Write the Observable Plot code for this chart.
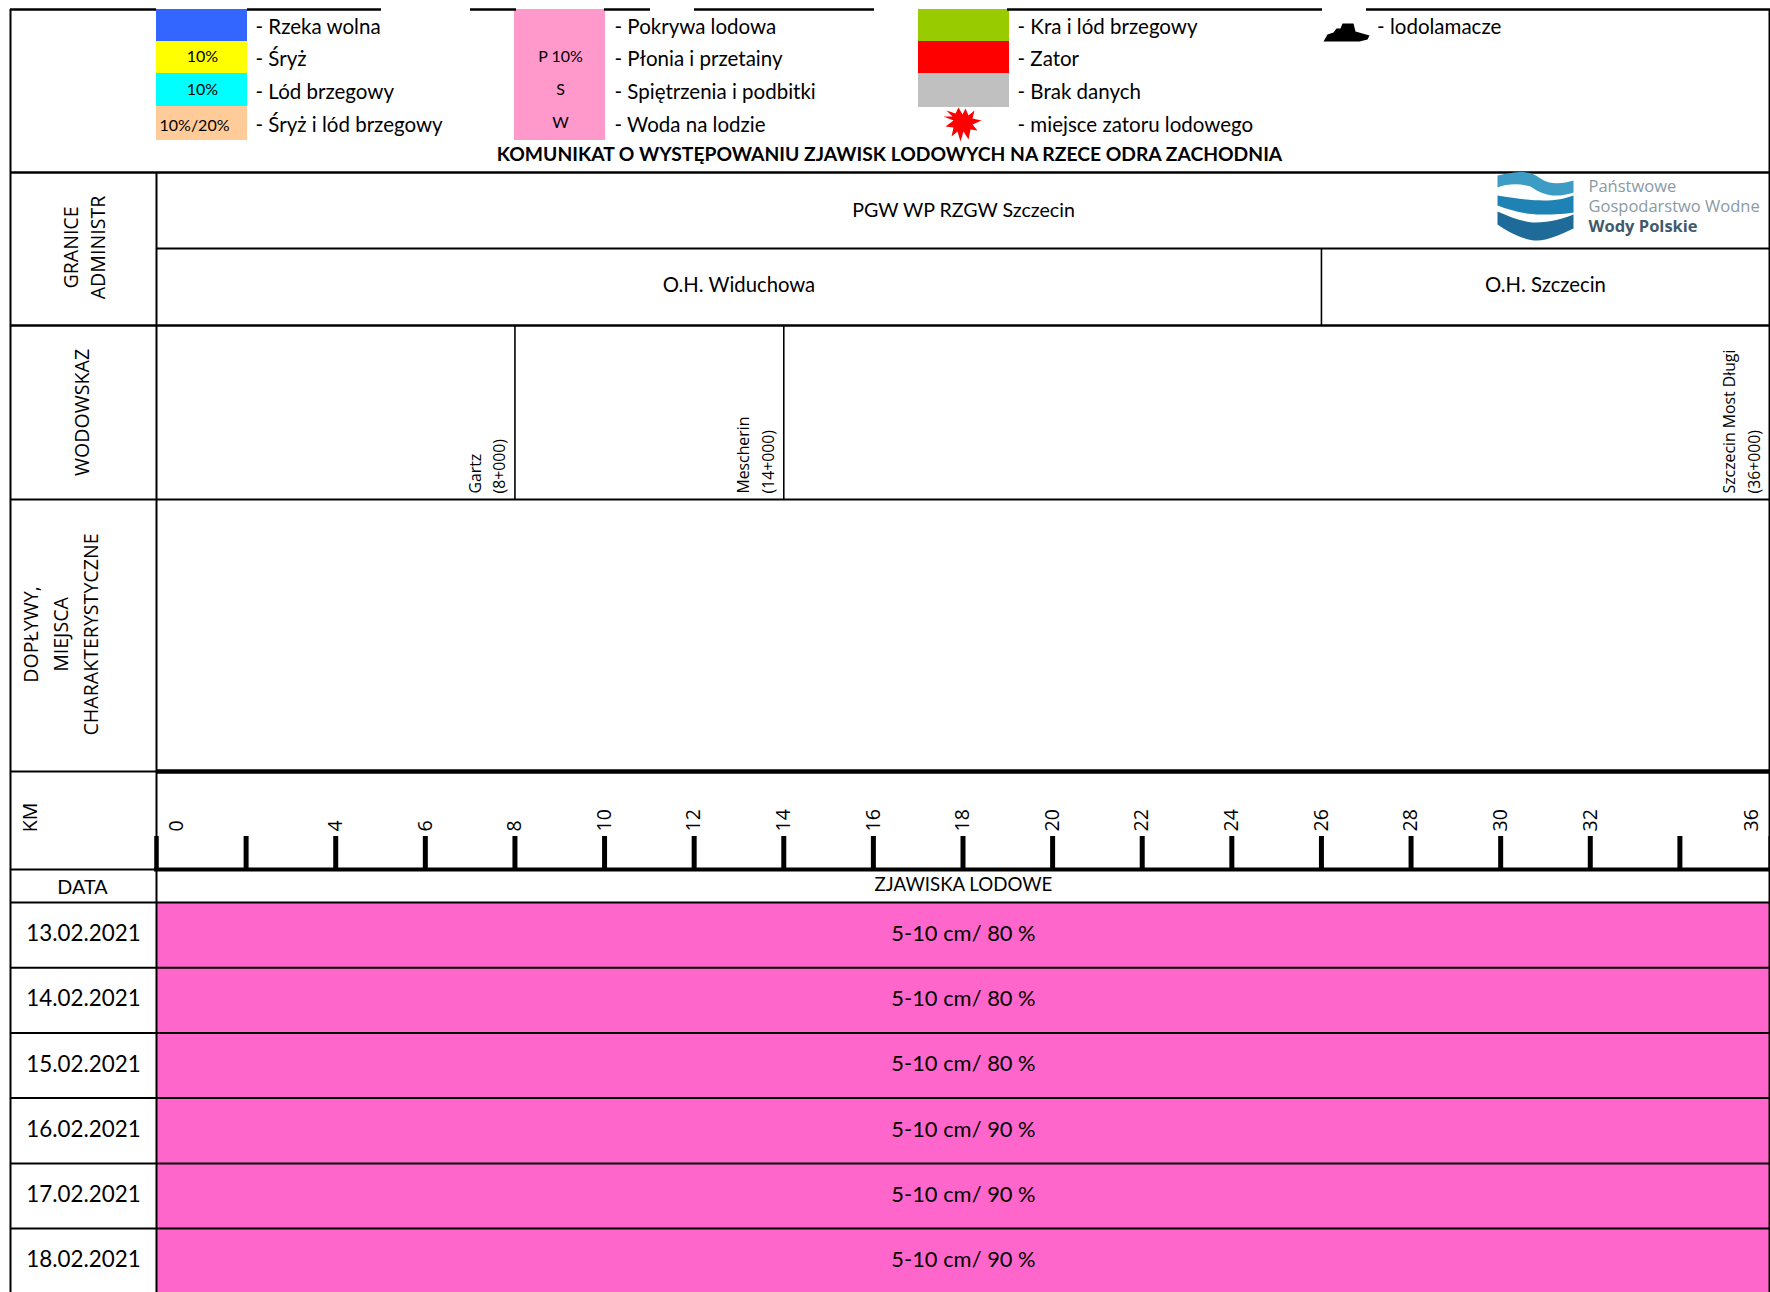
<!DOCTYPE html>
<html>
<head>
<meta charset="utf-8">
<script src="https://cdn.jsdelivr.net/npm/d3@7"></script>
<script src="https://cdn.jsdelivr.net/npm/@observablehq/plot@0.6"></script>
<style>html,body{margin:0;padding:0;background:#fff}svg{display:block}</style>
</head>
<body>
<div id="chart"></div>
<script>
// ---- data ----
const dates = ["13.02.2021","14.02.2021","15.02.2021","16.02.2021","17.02.2021","18.02.2021"];
const conditions = ["5-10 cm/ 80 %","5-10 cm/ 80 %","5-10 cm/ 80 %","5-10 cm/ 90 %","5-10 cm/ 90 %","5-10 cm/ 90 %"];
const kmTicks = [0,2,4,6,8,10,12,14,16,18,20,22,24,26,28,30,32,34,36];
const kmLabels = [4,6,8,10,12,14,16,18,20,22,24,26,28,30,32];
const gauges = [
  {km:8,  text:"Gartz\n(8+000)"},
  {km:14, text:"Mescherin\n(14+000)"},
  {km:36, text:"Szczecin Most Długi\n(36+000)"}
];
const legendA = ["- Rzeka wolna","- Śryż","- Lód brzegowy","- Śryż i lód brzegowy"];
const legendB = ["- Pokrywa lodowa","- Płonia i przetainy","- Spiętrzenia i podbitki","- Woda na lodzie"];
const legendC = ["- Kra i lód brzegowy","- Zator","- Brak danych","- miejsce zatoru lodowego"];
const swatchA = ["#3366ff","#ffff00","#00ffff","#ffcc99"];
const swatchAText = ["","10%","10%","10%/20%"];
const swatchBText = ["","P 10%","S","W"];
const swatchC = ["#99cc00","#ff0000","#c0c0c0"];
const title = "KOMUNIKAT O WYSTĘPOWANIU ZJAWISK LODOWYCH NA RZECE ODRA ZACHODNIA";

// ---- layout ----
const pxPerKm = (1769-156)/36;
const K = px => (px-156)/pxPerKm;         // frame pixel to km
const L = 10, C = 156, R = 1769;
const rowTops = [902,967.2,1032.4,1097.6,1163,1228,1295];
const legendY = [9,41,73,106,140];
const legendTextY = [26.5,59,92,124.5];
const rows = dates.map((d,i)=>({date:d,cond:conditions[i],y1:rowTops[i],y2:rowTops[i+1]}));

const sans = "Lato, Carlito, Calibri, sans-serif";
const open = "'Open Sans', sans-serif";
const txt = (data, o) => Plot.text(data, {fill:"#000", fontFamily:sans, fontSize:20, textAnchor:"middle", lineAnchor:"middle", ...o});
const vtxt = (s, x, y, o={}) => Plot.text([s], {x:()=>K(x), y:()=>y, text:d=>d, rotate:-90, fontFamily:open, fontSize:19.6, fill:"#000", ...o});
const hline = (x1,x2,y,w) => Plot.ruleY([y], {x1:K(x1), x2:K(x2), y:d=>d, stroke:"#000", strokeWidth:w});
const vline = (x,y1,y2,w) => Plot.ruleX([K(x)], {x:d=>d, y1, y2, stroke:"#000", strokeWidth:w});

const path = pts => ({draw(ctx){pts.forEach((p,i)=> i?ctx.lineTo(p[0],p[1]):ctx.moveTo(p[0],p[1])); ctx.closePath();}});
const star = path([[-16,-13],[-7,-10],[-4,-16],[0,-9],[3,-15],[6,-8],[12,-13],[10,-5],[19,-3],[10,1],[15,7],[8,6],[6,16],[1,8],[-2,18],[-5,8],[-11,13],[-9,4],[-17,3],[-9,-3],[-19,-7],[-10,-7]]);
const ship = path([[-24,9],[-20,2],[-14,0],[-11,-4],[-7,-4],[-5,-9],[6,-9],[8,-1],[22,3],[20,7],[12,9]]);
const wave1 = {draw(c){c.moveTo(-38,-32);c.bezierCurveTo(-15,-37,-5,-37,5,-29);c.bezierCurveTo(15,-22,28,-24,38,-27);c.lineTo(38,-15);c.bezierCurveTo(20,-9,8,-12,-5,-21);c.bezierCurveTo(-15,-24,-28,-24,-38,-20);c.closePath();}};
const wave2 = {draw(c){c.moveTo(-38,-12);c.bezierCurveTo(-20,-9,-5,-7,8,-7);c.bezierCurveTo(20,-7,30,-9,38,-12);c.lineTo(38,5);c.bezierCurveTo(25,7,15,7,5,7);c.bezierCurveTo(-10,7,-25,3,-38,-2);c.closePath();}};
const wave3 = {draw(c){c.moveTo(-38,4);c.bezierCurveTo(-25,10,-10,15,0,15);c.bezierCurveTo(15,15,28,11,38,7);c.lineTo(38,21);c.bezierCurveTo(25,27,12,33,2,33);c.bezierCurveTo(-12,33,-28,24,-38,17);c.closePath();}};
const mark1 = (sym, x, y, fill) => Plot.dot([0], {x:()=>K(x), y:()=>y, r:10, symbol:sym, fill, stroke:"none"});

const plot = Plot.plot({
  width:1770, height:1292,
  margin:0,
  x:{domain:[0,36], range:[C,R], axis:null},
  y:{domain:[0,1292], range:[0,1292], axis:null},
  style:{background:"#fff"},
  marks:[
    // ice rows
    Plot.rect(rows, {x1:0, x2:36, y1:"y1", y2:"y2", fill:"#ff66cc"}),
    // legend swatches
    Plot.rect(swatchA, {x1:K(156), x2:K(247), y1:(d,i)=>legendY[i], y2:(d,i)=>legendY[i+1], fill:d=>d}),
    Plot.rect([0], {x1:K(514), x2:K(605), y1:legendY[0], y2:legendY[4], fill:"#ff99cc"}),
    Plot.rect(swatchC, {x1:K(918), x2:K(1009), y1:(d,i)=>legendY[i], y2:(d,i)=>legendY[i+1]+(i==2?1:0), fill:d=>d}),
    // top border, broken where the legend overlaps it
    ...[[10,156],[247,381],[470,516],[604,650],[694,874],[1007,1322],[1366,1770]].map(s=>hline(s[0],s[1],9,2.4)),
    // horizontal rules
    hline(L,R,172,2.4), hline(C,R,248,2.2), hline(L,R,325,2.4), hline(L,R,499,2.2),
    hline(L,C,771,2.2), hline(C,R,771,4.6),
    hline(L,C,869,2), hline(C-2,R,869,4),
    ...rowTops.slice(0,6).map(y=>hline(L,R,y,2)),
    // vertical rules
    vline(L,9,1292,2), vline(R,9,1292,2), vline(C,172,1292,2),
    Plot.ruleX([26], {x:d=>d, y1:248, y2:325, stroke:"#000", strokeWidth:1.6}),
    Plot.ruleX(gauges.slice(0,2), {x:"km", y1:325, y2:499, stroke:"#000", strokeWidth:1.6}),
    // km ticks
    Plot.ruleX(kmTicks, {x:d=>d, y1:836, y2:869, stroke:"#000", strokeWidth:d=>d==36?2:d==0?4.5:5}),
    Plot.text(kmLabels, {x:d=>d, y:831, text:d=>String(d), rotate:-90, textAnchor:"start", lineAnchor:"middle", fontFamily:open, fontSize:19.5, fill:"#000"}),
    Plot.text([0], {x:d=>d, y:831, dx:20, text:d=>String(d), rotate:-90, textAnchor:"start", lineAnchor:"middle", fontFamily:open, fontSize:19.5, fill:"#000"}),
    Plot.text([36], {x:d=>d, y:831, dx:-18, text:d=>String(d), rotate:-90, textAnchor:"start", lineAnchor:"middle", fontFamily:open, fontSize:19.5, fill:"#000"}),
    // gauges
    Plot.text(gauges, {x:"km", y:493, dx:-30, text:"text", rotate:-90, textAnchor:"start", lineAnchor:"middle", lineHeight:1.55, fontFamily:open, fontSize:15.8, fill:"#000"}),
    // legend text
    txt(legendA, {x:()=>K(255), y:(d,i)=>legendTextY[i], text:d=>d, textAnchor:"start", fontSize:20.5}),
    txt(legendB, {x:()=>K(614), y:(d,i)=>legendTextY[i], text:d=>d, textAnchor:"start", fontSize:20.5}),
    txt(legendC, {x:()=>K(1017), y:(d,i)=>legendTextY[i], text:d=>d, textAnchor:"start", fontSize:20.5}),
    txt(["- lodolamacze"], {x:()=>K(1376.6), y:()=>26.5, text:d=>d, textAnchor:"start", fontSize:20.5}),
    txt(swatchAText, {x:(d,i)=>K(i==3?194:202), y:(d,i)=>i==3?125:legendTextY[i]-2.5, text:d=>d, fontSize:16}),
    txt(swatchBText, {x:()=>K(560), y:(d,i)=>legendTextY[i]-2.5, text:d=>d, fontSize:16}),
    mark1(star, 962, 123, "#ff0000"),
    mark1(ship, 1347, 32, "#000"),
    // title
    txt([title], {x:()=>K(889), y:()=>154, text:d=>d, fontWeight:"bold", fontSize:19.3}),
    // administrative boundaries
    txt(["PGW WP RZGW Szczecin"], {x:()=>K(963), y:()=>210, text:d=>d, fontSize:19.6}),
    txt(["O.H. Widuchowa"], {x:()=>13, y:()=>285, text:d=>d, fontSize:20.3}),
    txt(["O.H. Szczecin"], {x:()=>31, y:()=>285, text:d=>d, fontSize:20.3}),
    // logo
    mark1(wave1, 1535, 207, "#3d9cc4"),
    mark1(wave2, 1535, 207, "#1f82b4"),
    mark1(wave3, 1535, 207, "#1e6a98"),
    Plot.text(["Państwowe","Gospodarstwo Wodne"], {x:()=>K(1588), y:(d,i)=>186+i*20, text:d=>d, textAnchor:"start", lineAnchor:"middle", fontFamily:open, fontSize:16.5, fill:"#8a9aa3"}),
    Plot.text(["Wody Polskie"], {x:()=>K(1588), y:()=>226, text:d=>d, textAnchor:"start", lineAnchor:"middle", fontFamily:open, fontWeight:"bold", fontSize:16.5, fill:"#3f5a6b"}),
    // row headers
    vtxt("GRANICE\nADMINISTR", 82, 247, {lineHeight:1.4}),
    vtxt("WODOWSKAZ", 82, 412),
    vtxt("DOPŁYWY,\nMIEJSCA\nCHARAKTERYSTYCZNE", 58, 634, {lineHeight:1.53}),
    vtxt("KM", 30, 817),
    txt(["DATA"], {x:()=>K(82), y:()=>887, text:d=>d, fontSize:19.8}),
    txt(["ZJAWISKA LODOWE"], {x:()=>K(963), y:()=>885, text:d=>d, fontSize:18.7}),
    // rows
    txt(rows, {x:()=>K(83), y:d=>d.y1+31.5, text:"date", fontSize:22.4}),
    txt(rows, {x:()=>K(963), y:d=>d.y1+31.5, text:"cond", fontSize:21.9})
  ]
});
document.getElementById("chart").append(plot);
</script>
</body>
</html>
